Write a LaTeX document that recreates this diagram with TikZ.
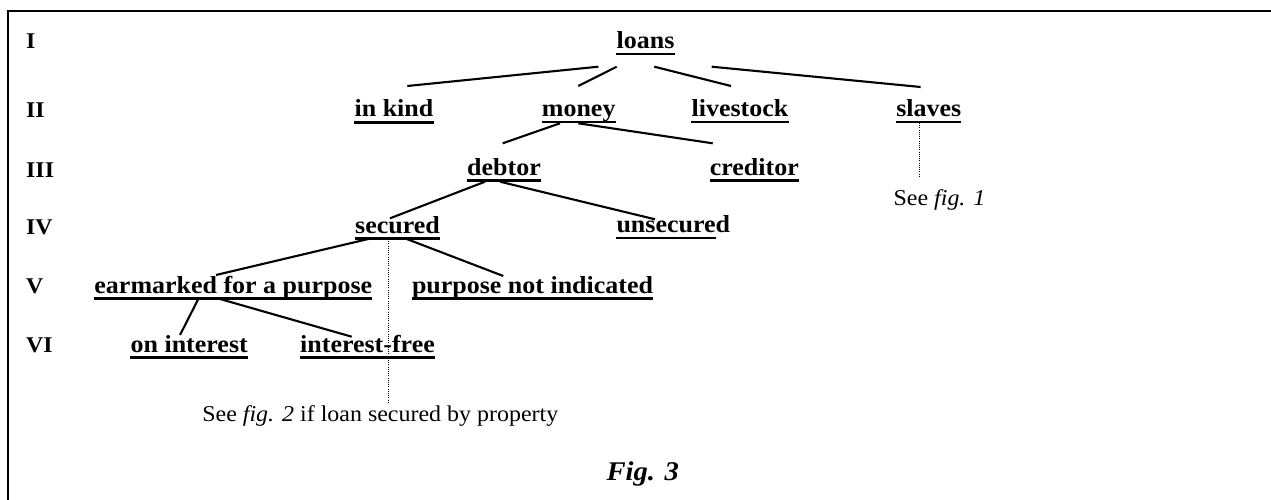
\documentclass[tikz,border=0pt]{standalone}
\usepackage{fontspec}
\setmainfont{Liberation Serif}[FakeStretch=1.06]
\begin{document}
\begin{tikzpicture}[x=1pt,y=-1pt,
  lab/.style={inner sep=0pt, anchor=base, font=\fontsize{24.5}{28}\selectfont\bfseries},
  lvl/.style={inner sep=0pt, anchor=base west, font=\fontsize{22.5}{26}\selectfont\bfseries},
  note/.style={inner sep=0pt, anchor=base, font=\fontsize{22.6}{26}\selectfont},
  capt/.style={inner sep=0pt, anchor=base, font=\fontsize{27}{30}\selectfont\bfseries\itshape},
  branch/.style={line width=2.1pt},
  uline/.style={line width=2.1pt},
  hint/.style={line width=1pt, dash pattern=on 1pt off 1.2pt},
  frame/.style={line width=2pt}]
\useasboundingbox (0,0) rectangle (1271,500);
\draw[frame] (1271,11) -- (7.7,11) -- (7.7,500);

% level labels
\node[lvl] (r1) at (26,48.3) {I};
\node[lvl] (r2) at (26,118) {II};
\node[lvl] (r3) at (26,177) {III};
\node[lvl] (r4) at (26,234) {IV};
\node[lvl] (r5) at (26,293.3) {V};
\node[lvl] (r6) at (26,352.7) {VI};

% tree nodes
\node[lab] (loans) at (645.5,48.3) {loans};
\node[lab] (inkind) at (394,117) {in kind};
\node[lab] (money) at (578.7,116.7) {money};
\node[lab] (livestock) at (740,116.7) {livestock};
\node[lab] (slaves) at (928.7,116.7) {slaves};
\node[lab] (debtor) at (504,175) {debtor};
\node[lab] (creditor) at (754.3,175) {creditor};
\node[lab] (secured) at (397.5,233) {secured};
\node[lab] (unsecured) at (673.3,232.7) {unsecured};
\node[lab] (earmarked) at (233.3,293) {earmarked for a purpose};
\node[lab] (purpose) at (532.5,293) {purpose not indicated};
\node[lab] (oninterest) at (189.2,352) {on interest};
\node[lab] (intfree) at (367.5,352) {interest-free};

\node[note] (note1) at (939.5,205) {See \textit{fig. 1}};
\node[note] (note2) at (380.3,421.7) {See \textit{fig. 2} if loan secured by property};
\node[capt] (caption) at (642.7,480) {Fig. 3};

% underlines
\foreach \n in {loans,inkind,money,livestock,slaves,debtor,creditor,secured,earmarked,purpose,oninterest,intfree}
  \draw[uline] ([shift={(0,5.5)}]\n.base west) -- ([shift={(0,5.5)}]\n.base east);
\draw[uline] ([shift={(0,5.5)}]unsecured.base west) -- ([shift={(-14,5.5)}]unsecured.base east);

% branches
\draw[branch] ([shift={(-47.2,18.4)}]loans.base) -- ([shift={(13.3,-31)}]inkind.base);
\draw[branch] ([shift={(-28.8,18.4)}]loans.base) -- ([shift={(-0.4,-30.7)}]money.base);
\draw[branch] ([shift={(8.8,18.4)}]loans.base) -- ([shift={(-9,-30.7)}]livestock.base);
\draw[branch] ([shift={(66.2,18.4)}]loans.base) -- ([shift={(-8.1,-29.7)}]slaves.base);

\draw[branch] ([shift={(-18.7,6.6)}]money.base) -- ([shift={(-1.3,-31.7)}]debtor.base);
\draw[branch] ([shift={(-0.4,6.6)}]money.base) -- ([shift={(-41.6,-31.7)}]creditor.base);

\draw[branch] ([shift={(-19,6.7)}]debtor.base) -- ([shift={(-7.5,-14.7)}]secured.base);
\draw[branch] ([shift={(-4,6.7)}]debtor.base) -- ([shift={(-18.3,-13.4)}]unsecured.base);

\draw[branch] ([shift={(-29.2,6)}]secured.base) -- ([shift={(-17.3,-18)}]earmarked.base);
\draw[branch] ([shift={(9.2,6)}]secured.base) -- ([shift={(-29.2,-17)}]purpose.base);

\draw[branch] ([shift={(-35,6)}]earmarked.base) -- ([shift={(-9.2,-17)}]oninterest.base);
\draw[branch] ([shift={(-13.3,6)}]earmarked.base) -- ([shift={(-15.8,-15.3)}]intfree.base);

% dotted references
\draw[hint] ([shift={(-8.9,6.3)}]slaves.base) -- ([shift={(-19.7,-27)}]note1.base);
\draw[hint] ([shift={(-9.2,6)}]secured.base) -- ([shift={(8,-18.7)}]note2.base);
\end{tikzpicture}
\end{document}
